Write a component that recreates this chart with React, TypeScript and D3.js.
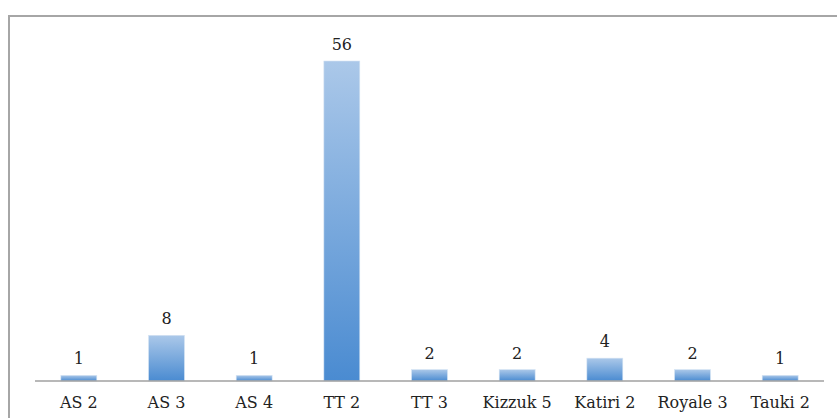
import React, { useEffect, useRef } from 'react';
import * as d3 from 'd3';

const categories = ['AS 2', 'AS 3', 'AS 4', 'TT 2', 'TT 3', 'Kizzuk 5', 'Katiri 2', 'Royale 3', 'Tauki 2'];
const counts = [1, 8, 1, 56, 2, 2, 4, 2, 1];

const App: React.FC = () => {
  const ref = useRef<SVGSVGElement>(null);

  useEffect(() => {
    const width = 837;
    const height = 418;
    const svg = d3.select(ref.current);
    svg.selectAll('*').remove();

    // gradient for the bars
    const grad = svg.append('defs')
      .append('linearGradient')
      .attr('id', 'barGrad')
      .attr('x1', 0).attr('y1', 0)
      .attr('x2', 0).attr('y2', 1);
    grad.append('stop').attr('offset', '0%').attr('stop-color', '#abc8e9');
    grad.append('stop').attr('offset', '100%').attr('stop-color', '#4a8bd1');

    // outer frame (right/bottom edges fall off the picture)
    svg.append('rect')
      .attr('x', 9)
      .attr('y', 16)
      .attr('width', 840)
      .attr('height', 420)
      .attr('fill', 'none')
      .attr('stroke', '#a6a6a6')
      .attr('stroke-width', 2);

    const x = d3.scaleBand()
      .domain(categories)
      .range([35, 824])
      .paddingInner(0.59)
      .paddingOuter(0.295);
    const y = d3.scaleLinear()
      .domain([0, 56])
      .range([381, 61]);

    const data = categories.map((c, i) => ({ c, v: counts[i] }));
    const font = '"DejaVu Serif", serif';

    svg.append('g')
      .selectAll('rect')
      .data(data)
      .join('rect')
      .attr('x', d => x(d.c) || 0)
      .attr('y', d => y(d.v))
      .attr('width', x.bandwidth())
      .attr('height', d => y(0) - y(d.v))
      .attr('fill', 'url(#barGrad)')
      .attr('stroke', '#d6e4f3')
      .attr('stroke-width', 0.6);

    // value labels
    svg.append('g')
      .selectAll('text')
      .data(data)
      .join('text')
      .attr('x', d => (x(d.c) || 0) + x.bandwidth() / 2)
      .attr('y', d => y(d.v) - 11)
      .attr('text-anchor', 'middle')
      .style('font-family', font)
      .style('font-size', '16px')
      .attr('fill', '#222')
      .text(d => d.v);

    // x axis
    const xAxis = d3.axisBottom(x).tickSize(0).tickPadding(16);
    svg.append('g')
      .attr('transform', `translate(0,${y(0)})`)
      .call(xAxis)
      .call(g => g.select('.domain').attr('stroke', '#a0a0a0').attr('stroke-width', 1.5).attr('d', 'M35,0H824'))
      .call(g => g.selectAll('text')
        .style('font-family', font)
        .style('font-size', '16px')
        .attr('fill', '#222'));
    svg.attr('width', width).attr('height', height);
  }, []);

  return (
    <svg ref={ref} width={837} height={418} style={{ position: 'absolute', left: 0, top: 0, background: '#fff' }} />
  );
};

export default App;
